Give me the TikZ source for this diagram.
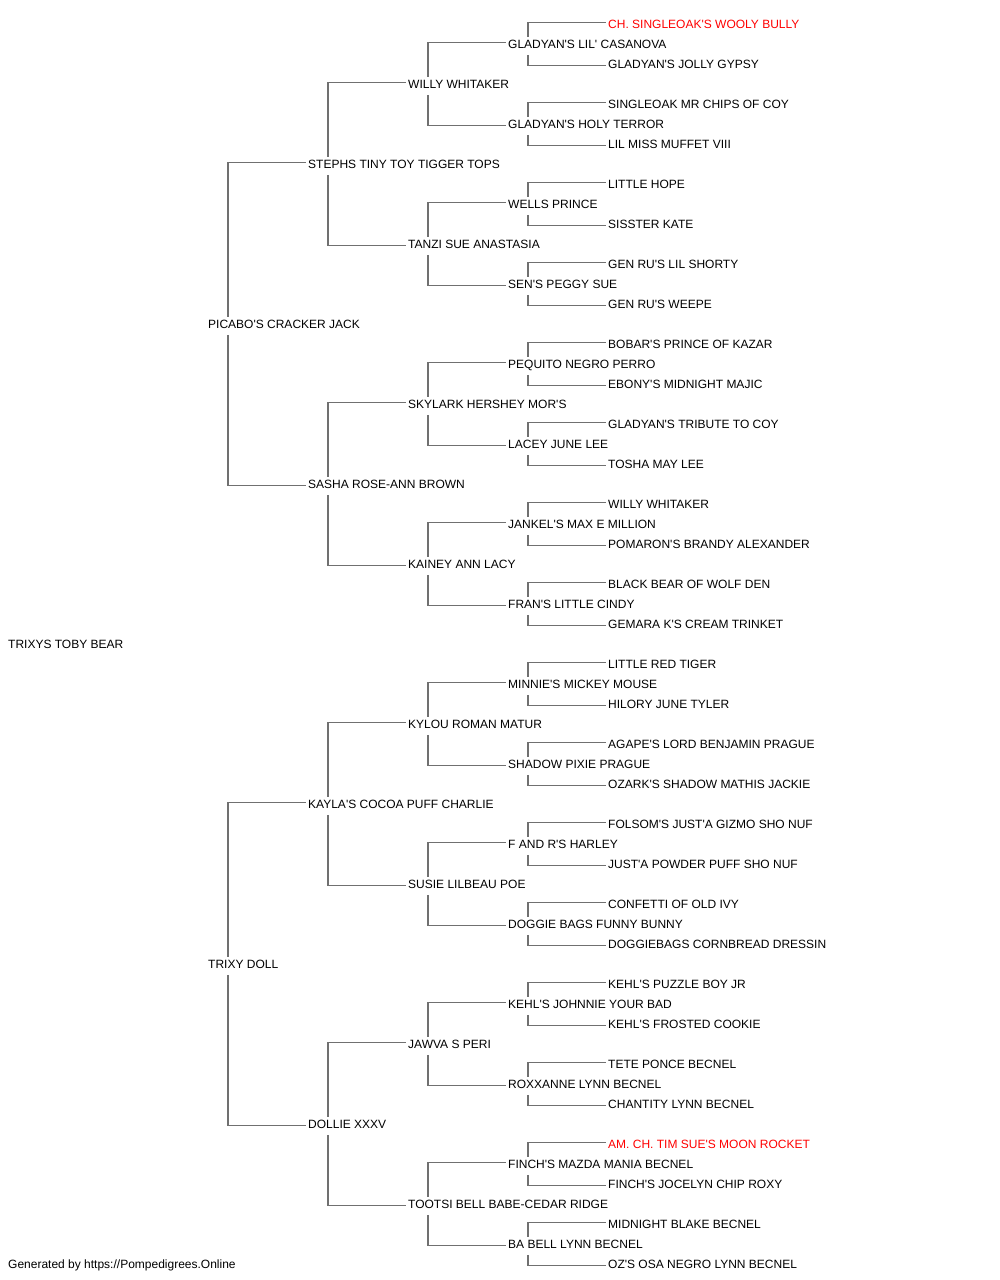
\documentclass[tikz,border=0pt]{standalone}
\usepackage{fontspec}
\setmainfont{Liberation Sans}[Ligatures=TeXOff]
\usetikzlibrary{calc}
\definecolor{pedred}{RGB}{255,0,0}
\definecolor{conngray}{RGB}{112,112,112}
\begin{document}
\begin{tikzpicture}[x=1pt,y=-1pt,
  lbl/.style={anchor=west, inner sep=0pt, text height=8.6pt, text depth=0pt, font=\fontsize{12pt}{14pt}\selectfont},
  conn/.style={draw=conngray, line width=1.3pt}]
\useasboundingbox (0,0) rectangle (1000,1280);
\node[lbl] (g0-0) at (8,644.3) {TRIXYS TOBY BEAR};
\foreach \n [count=\i from 0] in {PICABO'S CRACKER JACK, TRIXY DOLL}
  {\node[lbl] (g1-\i) at (208,{324+640*\i+0.3}) {\n};}
\foreach \n [count=\i from 0] in {STEPHS TINY TOY TIGGER TOPS, SASHA ROSE-ANN BROWN, KAYLA'S COCOA PUFF CHARLIE, DOLLIE XXXV}
  {\node[lbl] (g2-\i) at (308,{164+320*\i+0.3}) {\n};}
\foreach \n [count=\i from 0] in {WILLY WHITAKER, TANZI SUE ANASTASIA, SKYLARK HERSHEY MOR'S, KAINEY ANN LACY, KYLOU ROMAN MATUR, SUSIE LILBEAU POE, JAWVA S PERI, TOOTSI BELL BABE-CEDAR RIDGE}
  {\node[lbl] (g3-\i) at (408,{84+160*\i+0.3}) {\n};}
\foreach \n [count=\i from 0] in {GLADYAN'S LIL' CASANOVA, GLADYAN'S HOLY TERROR, WELLS PRINCE, SEN'S PEGGY SUE, PEQUITO NEGRO PERRO, LACEY JUNE LEE, JANKEL'S MAX E MILLION, FRAN'S LITTLE CINDY, MINNIE'S MICKEY MOUSE, SHADOW PIXIE PRAGUE, F AND R'S HARLEY, DOGGIE BAGS FUNNY BUNNY, KEHL'S JOHNNIE YOUR BAD, ROXXANNE LYNN BECNEL, FINCH'S MAZDA MANIA BECNEL, BA BELL LYNN BECNEL}
  {\node[lbl] (g4-\i) at (508,{44+80*\i+0.3}) {\n};}
\foreach \n [count=\i from 0] in {{\textcolor{pedred}{CH. SINGLEOAK'S WOOLY BULLY}}, GLADYAN'S JOLLY GYPSY, SINGLEOAK MR CHIPS OF COY, LIL MISS MUFFET VIII, LITTLE HOPE, SISSTER KATE, GEN RU'S LIL SHORTY, GEN RU'S WEEPE, BOBAR'S PRINCE OF KAZAR, EBONY'S MIDNIGHT MAJIC, GLADYAN'S TRIBUTE TO COY, TOSHA MAY LEE, WILLY WHITAKER, POMARON'S BRANDY ALEXANDER, BLACK BEAR OF WOLF DEN, GEMARA K'S CREAM TRINKET, LITTLE RED TIGER, HILORY JUNE TYLER, AGAPE'S LORD BENJAMIN PRAGUE, OZARK'S SHADOW MATHIS JACKIE, FOLSOM'S JUST'A GIZMO SHO NUF, JUST'A POWDER PUFF SHO NUF, CONFETTI OF OLD IVY, DOGGIEBAGS CORNBREAD DRESSIN, KEHL'S PUZZLE BOY JR, KEHL'S FROSTED COOKIE, TETE PONCE BECNEL, CHANTITY LYNN BECNEL, {\textcolor{pedred}{AM. CH. TIM SUE'S MOON ROCKET}}, FINCH'S JOCELYN CHIP ROXY, MIDNIGHT BLAKE BECNEL, OZ'S OSA NEGRO LYNN BECNEL}
  {\node[lbl] (g5-\i) at (608,{24+40*\i+0.3}) {\n};}
\node[lbl] (footer) at (8,1264.3) {Generated by https://Pompedigrees.Online};
\foreach \g/\n in {1/2,2/4,3/8,4/16} {
  \pgfmathtruncatemacro\last{\n-1}
  \pgfmathtruncatemacro\h{\g+1}
  \foreach \i in {0,...,\last} {
    \pgfmathtruncatemacro\s{2*\i}
    \pgfmathtruncatemacro\d{2*\i+1}
    \draw[conn] ([shift={(20pt,7.5pt)}]g\g-\i.west) |- ([shift={(-2pt,2pt)}]g\h-\s.west);
    \draw[conn] ([shift={(20pt,-10.5pt)}]g\g-\i.west) |- ([shift={(-2pt,-1pt)}]g\h-\d.west);
  }
}
\end{tikzpicture}
\end{document}
